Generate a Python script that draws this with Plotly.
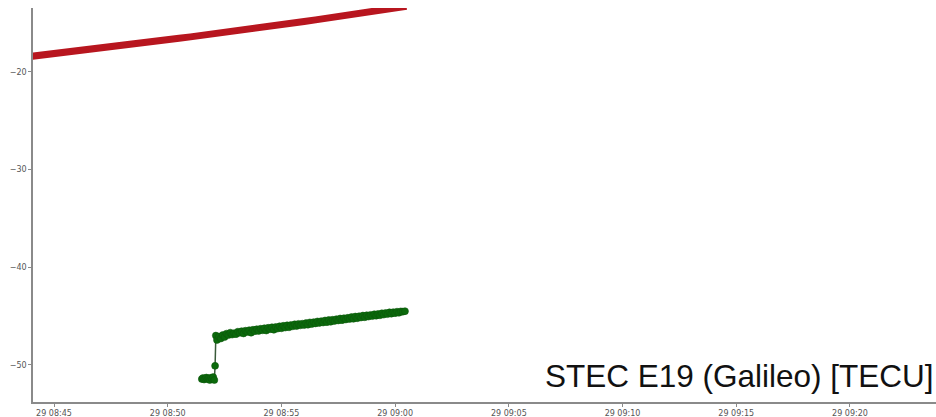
import plotly.graph_objects as go

DAY = "2023-10-29 "

# Reference (red) STEC track, one sample every 30 s
red_times = [
    "08:44:00", "08:44:30", "08:45:00", "08:45:30", "08:46:00", "08:46:30",
    "08:47:00", "08:47:30", "08:48:00", "08:48:30", "08:49:00", "08:49:30",
    "08:50:00", "08:50:30", "08:51:00", "08:51:30", "08:52:00", "08:52:30",
    "08:53:00", "08:53:30", "08:54:00", "08:54:30", "08:55:00", "08:55:30",
    "08:56:00", "08:56:30", "08:57:00", "08:57:30", "08:58:00", "08:58:30",
    "08:59:00", "08:59:30", "09:00:00", "09:00:30",
]
red_values = [
    -18.40, -18.27, -18.12, -17.98, -17.84, -17.70,
    -17.56, -17.42, -17.26, -17.12, -17.00, -16.86,
    -16.70, -16.55, -16.41, -16.27, -16.10, -15.94,
    -15.79, -15.64, -15.48, -15.33, -15.16, -15.00,
    -14.84, -14.67, -14.50, -14.33, -14.15, -13.98,
    -13.80, -13.63, -13.45, -13.28,
]

# Measured (green) STEC for E19, 5 s sampling
green_times = [
    "08:51:30", "08:51:33", "08:51:36", "08:51:39", "08:51:42", "08:51:45",
    "08:51:48", "08:51:51", "08:51:54", "08:51:57", "08:52:00", "08:52:03",
    "08:52:05", "08:52:07", "08:52:10", "08:52:15", "08:52:20", "08:52:25",
    "08:52:30", "08:52:35", "08:52:40", "08:52:45", "08:52:50", "08:52:55",
    "08:53:00", "08:53:05", "08:53:10", "08:53:15", "08:53:20", "08:53:25",
    "08:53:30", "08:53:35", "08:53:40", "08:53:45", "08:53:50", "08:53:55",
    "08:54:00", "08:54:05", "08:54:10", "08:54:15", "08:54:20", "08:54:25",
    "08:54:30", "08:54:35", "08:54:40", "08:54:45", "08:54:50", "08:54:55",
    "08:55:00", "08:55:05", "08:55:10", "08:55:15", "08:55:20", "08:55:25",
    "08:55:30", "08:55:35", "08:55:40", "08:55:45", "08:55:50", "08:55:55",
    "08:56:00", "08:56:05", "08:56:10", "08:56:15", "08:56:20", "08:56:25",
    "08:56:30", "08:56:35", "08:56:40", "08:56:45", "08:56:50", "08:56:55",
    "08:57:00", "08:57:05", "08:57:10", "08:57:15", "08:57:20", "08:57:25",
    "08:57:30", "08:57:35", "08:57:40", "08:57:45", "08:57:50", "08:57:55",
    "08:58:00", "08:58:05", "08:58:10", "08:58:15", "08:58:20", "08:58:25",
    "08:58:30", "08:58:35", "08:58:40", "08:58:45", "08:58:50", "08:58:55",
    "08:59:00", "08:59:05", "08:59:10", "08:59:15", "08:59:20", "08:59:25",
    "08:59:30", "08:59:35", "08:59:40", "08:59:45", "08:59:50", "08:59:55",
    "09:00:00", "09:00:05", "09:00:10", "09:00:15", "09:00:20", "09:00:26",
]
green_values = [
    -51.45, -51.35, -51.50, -51.40, -51.30, -51.45,
    -51.38, -51.55, -51.32, -51.42, -51.25, -51.55,
    -50.10, -47.00, -47.45, -47.10, -47.30, -46.95,
    -47.15, -46.80, -46.95, -46.70, -46.90, -46.75,
    -46.85, -46.60, -46.72, -46.55, -46.78, -46.50,
    -46.62, -46.45, -46.70, -46.40, -46.55, -46.35,
    -46.52, -46.30, -46.45, -46.25, -46.48, -46.20,
    -46.35, -46.15, -46.40, -46.12, -46.28, -46.05,
    -46.25, -46.00, -46.18, -45.95, -46.15, -45.92,
    -46.05, -45.85, -46.02, -45.80, -45.95, -45.78,
    -45.92, -45.72, -45.88, -45.65, -45.82, -45.62,
    -45.75, -45.55, -45.70, -45.52, -45.66, -45.45,
    -45.62, -45.40, -45.58, -45.38, -45.50, -45.32,
    -45.45, -45.25, -45.42, -45.22, -45.35, -45.18,
    -45.30, -45.10, -45.28, -45.05, -45.22, -45.02,
    -45.15, -44.95, -45.12, -44.92, -45.05, -44.88,
    -45.00, -44.82, -44.96, -44.78, -44.92, -44.72,
    -44.85, -44.68, -44.80, -44.62, -44.75, -44.60,
    -44.70, -44.55, -44.66, -44.52, -44.55, -44.50,
]

x_tick_times = ["08:45", "08:50", "08:55", "09:00", "09:05", "09:10", "09:15", "09:20"]
y_tick_values = [-50, -40, -30, -20]

fig = go.Figure()
fig.add_trace(go.Scatter(
    x=[DAY + t for t in red_times], y=red_values, mode="lines",
    line=dict(color="#b8161f", width=7), showlegend=False,
))
fig.add_trace(go.Scatter(
    x=[DAY + t for t in green_times], y=green_values, mode="lines+markers",
    line=dict(color="#3a5a3a", width=1.5),
    marker=dict(color="#0b6a0b", size=7, line=dict(color="#0a520a", width=0.5)),
    showlegend=False,
))

fig.add_annotation(
    text="STEC E19 (Galileo) [TECU]", xref="paper", yref="paper",
    x=1.0, y=0.016, xanchor="right", yanchor="bottom", showarrow=False,
    font=dict(family="Liberation Sans, Arial, sans-serif", size=31.5, color="#111"),
)

tick_font = dict(family="DejaVu Sans, sans-serif", size=8, color="#555")
fig.update_layout(
    width=936, height=417,
    margin=dict(l=33, r=0, t=8, b=15),
    paper_bgcolor="white", plot_bgcolor="white",
    xaxis=dict(
        range=[DAY + "08:44:04.6", DAY + "09:23:47"],
        tickvals=[DAY + t for t in x_tick_times],
        ticktext=["29 " + t for t in x_tick_times],
        showgrid=False, zeroline=False,
        showline=True, linecolor="#8a8a8a", linewidth=1.5,
        ticks="outside", ticklen=3, tickcolor="#8a8a8a",
        tickfont=tick_font,
    ),
    yaxis=dict(
        range=[-53.8, -13.45],
        tickvals=y_tick_values,
        showgrid=False, zeroline=False,
        showline=True, linecolor="#8a8a8a", linewidth=1.5,
        ticks="outside", ticklen=3, tickcolor="#8a8a8a",
        tickfont=tick_font,
    ),
)

fig.write_html("out.html")
